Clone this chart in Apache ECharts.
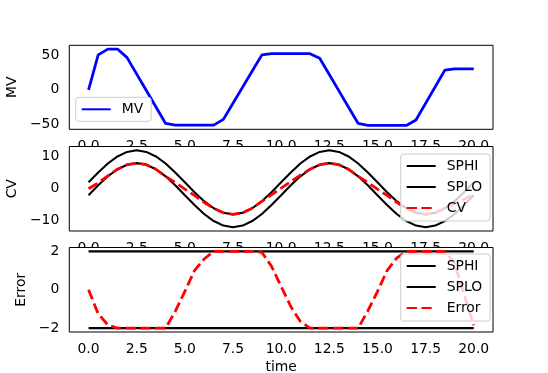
<!DOCTYPE html>
<html>
<head>
<meta charset="utf-8">
<script src="https://cdn.jsdelivr.net/npm/echarts@6/dist/echarts.min.js"></script>
<style>
html,body{margin:0;padding:0;background:#fff;}
#chart{width:548px;height:373px;}
</style>
</head>
<body>
<div id="chart"></div>
<script>
// ---- data ----
const time = [0, 0.5, 1, 1.5, 2, 2.5, 3, 3.5, 4, 4.5, 5, 5.5, 6, 6.5, 7, 7.5, 8, 8.5, 9, 9.5,
  10, 10.5, 11, 11.5, 12, 12.5, 13, 13.5, 14, 14.5, 15, 15.5, 16, 16.5, 17, 17.5, 18, 18.5, 19, 19.5, 20];
const MV = [0, 51, 59.5, 59.5, 47, 23, -1, -25, -49, -51.5, -51.5, -51.5, -51.5, -51.5, -43, -19.5, 4, 27.5, 51, 52.7,
  52.7, 52.7, 52.7, 52.7, 46, 22.3, -1.5, -25.3, -49, -51.9, -51.9, -51.9, -51.9, -51.9, -44, -19.7, 4.5, 28.8, 30.7, 30.7, 30.7];
const SPHI = [2, 5.09, 7.88, 10.09, 11.51, 12, 11.51, 10.09, 7.88, 5.09, 2, -1.09, -3.88, -6.09, -7.51, -8, -7.51, -6.09, -3.88, -1.09,
  2, 5.09, 7.88, 10.09, 11.51, 12, 11.51, 10.09, 7.88, 5.09, 2, -1.09, -3.88, -6.09, -7.51, -8, -7.51, -6.09, -3.88, -1.09, 2];
const SPLO = [-2, 1.09, 3.88, 6.09, 7.51, 8, 7.51, 6.09, 3.88, 1.09, -2, -5.09, -7.88, -10.09, -11.51, -12, -11.51, -10.09, -7.88, -5.09,
  -2, 1.09, 3.88, 6.09, 7.51, 8, 7.51, 6.09, 3.88, 1.09, -2, -5.09, -7.88, -10.09, -11.51, -12, -11.51, -10.09, -7.88, -5.09, -2];
const CV = [0, 1.84, 4.05, 6.09, 7.51, 8, 7.51, 6.09, 3.88, 1.96, -0.09, -2.09, -4.28, -6.09, -7.51, -8, -7.51, -6.09, -3.93, -1.87,
  0.17, 2.22, 4.23, 6.09, 7.51, 8, 7.51, 6.09, 3.88, 1.99, -0.1, -2.09, -4.23, -6.09, -7.51, -8, -7.51, -6.09, -4.6, -3.3, -1.6];
const Error = [0, -1.25, -1.83, -2, -2, -2, -2, -2, -2, -1.13, -0.09, 1.0, 1.6, 2, 2, 2, 2, 2, 1.95, 1.22,
  0.17, -0.87, -1.65, -2, -2, -2, -2, -2, -2, -1.1, -0.1, 1.0, 1.65, 2, 2, 2, 2, 2, 1.4, -0.25, -1.85];
const errLimitTime = [0, 20];
const errSPHI = [2, 2];
const errSPLO = [-2, -2];
const timeTicks = [0, 2.5, 5, 7.5, 10, 12.5, 15, 17.5, 20];
const mvTicks = [-50, 0, 50];
const cvTicks = [-10, 0, 10];
const errTicks = [-2, 0, 2];

// ---- build ----
const pair = (xs, ys) => xs.map((x, i) => [x, ys[i]]);
const FS = 13.9;
const FONT = 'DejaVu Sans';
const L = 69.3, W = 423.7;
const boxes = [
  {left: L, top: 45.3, width: W, height: 84},
  {left: L, top: 146.5, width: W, height: 84.5},
  {left: L, top: 247.5, width: W, height: 84.5}
];
const grids = boxes.map(b => Object.assign({}, b, {show: false, containLabel: false, outerBoundsMode: 'none'}));
// white panel with black frame for each axes (covers tick labels of the axes above, like matplotlib)
const panels = boxes.map(b => ({
  type: 'rect', z: 1, zlevel: 1, silent: true,
  shape: {x: b.left, y: b.top, width: b.width, height: b.height},
  style: {fill: '#ffffff', stroke: '#000000', lineWidth: 1}
}));

function xAxis(idx, showName) {
  return {
    type: 'value', gridIndex: idx, min: -1, max: 21, z: 0, zlevel: 0,
    name: showName ? 'time' : '', nameLocation: 'middle', nameGap: 28,
    nameTextStyle: {fontFamily: FONT, fontSize: FS, color: '#000'},
    axisLine: {show: false},
    splitLine: {show: false},
    axisTick: {show: true, inside: false, length: 4.9, lineStyle: {color: '#000', width: 1}, customValues: timeTicks},
    axisLabel: {show: true, margin: 10, fontFamily: FONT, fontSize: FS, color: '#000', customValues: timeTicks,
      formatter: v => v.toFixed(1)}
  };
}
function yAxis(idx, name, min, max, ticks, gap) {
  return {
    type: 'value', gridIndex: idx, min: min, max: max, z: 0, zlevel: 0,
    name: name, nameLocation: 'middle', nameGap: gap,
    nameTextStyle: {fontFamily: FONT, fontSize: FS, color: '#000'},
    axisLine: {show: false},
    splitLine: {show: false},
    axisTick: {show: true, inside: false, length: 4.9, lineStyle: {color: '#000', width: 1}, customValues: ticks},
    axisLabel: {show: true, margin: 10, fontFamily: FONT, fontSize: FS, color: '#000', customValues: ticks,
      formatter: v => (v < 0 ? '\u2212' + Math.abs(v) : String(v))}
  };
}
function line(name, xi, xs, ys, color, width, dashed) {
  return {
    type: 'line', name: name, xAxisIndex: xi, yAxisIndex: xi, data: pair(xs, ys),
    symbol: 'none', showSymbol: false, smooth: false, z: 2, zlevel: 1,
    lineStyle: {color: color, width: width, type: dashed ? [10.3, 4.4] : 'solid'},
    itemStyle: {color: color},
    emphasis: {disabled: true}
  };
}
const legendBase = {
  orient: 'vertical', itemWidth: 29, itemHeight: 14, itemGap: 7, z: 4, zlevel: 1,
  itemStyle: {opacity: 0, borderWidth: 0},
  backgroundColor: 'rgba(255,255,255,0.8)', borderColor: '#cccccc', borderWidth: 1, borderRadius: 3,
  textStyle: {fontFamily: FONT, fontSize: FS, color: '#000', padding: [0, 0, 0, 6]},
  selectedMode: false
};

const chart = echarts.init(document.getElementById('chart'), null, {renderer: 'canvas'});
chart.setOption({
  animation: false,
  backgroundColor: '#fff',
  grid: grids,
  graphic: {elements: panels},
  xAxis: [xAxis(0, false), xAxis(1, false), xAxis(2, true)],
  yAxis: [
    yAxis(0, 'MV', -57.5, 65, mvTicks, 40),
    yAxis(1, 'CV', -13.2, 13.2, cvTicks, 40),
    yAxis(2, 'Error', -2.2, 2.2, errTicks, 31)
  ],
  legend: [
    Object.assign({}, legendBase, {left: 75.7, top: 97.3, padding: [5, 8, 5, 5], data: ['MV']}),
    Object.assign({}, legendBase, {left: 400.7, top: 154, padding: [5, 8, 6, 5], data: ['SPHI', 'SPLO', 'CV']}),
    Object.assign({}, legendBase, {left: 400.7, top: 254, padding: [5, 8, 6, 5], data: ['SPHI', 'SPLO', 'Error']})
  ],
  series: [
    line('MV', 0, time, MV, '#0000ff', 2.78, false),
    line('SPHI', 1, time, SPHI, '#000000', 2.08, false),
    line('SPLO', 1, time, SPLO, '#000000', 2.08, false),
    line('CV', 1, time, CV, '#ff0000', 2.78, true),
    line('SPHI', 2, errLimitTime, errSPHI, '#000000', 2.08, false),
    line('SPLO', 2, errLimitTime, errSPLO, '#000000', 2.08, false),
    line('Error', 2, time, Error, '#ff0000', 2.78, true)
  ]
});
</script>
</body>
</html>
